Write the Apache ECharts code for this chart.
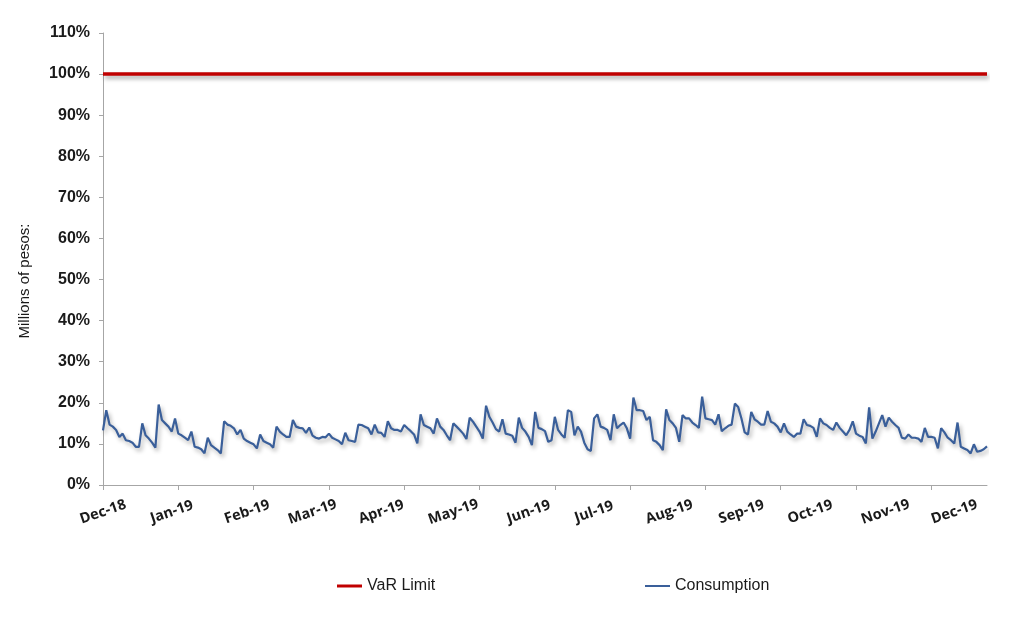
<!DOCTYPE html>
<html>
<head>
<meta charset="utf-8">
<title>VaR Limit vs Consumption</title>
<script src="https://cdn.jsdelivr.net/npm/echarts@6/dist/echarts.min.js"></script>
<style>
  html, body { margin: 0; padding: 0; background: #fff; }
  #chart { width: 1024px; height: 617px; }
</style>
</head>
<body>
<div id="chart"></div>
<script>
  // Valores (% del limite), un punto por dia habil
  const consumption = [
    13.3, 18.2, 14.7, 14.2, 13.4, 11.7, 12.5, 10.9, 10.7, 10.3, 9.3, 9.3, 15.0, 12.1, 11.3,
    10.3, 9.1, 19.6, 15.8, 15.0, 14.2, 13.0, 16.2, 12.5, 12.1, 11.5, 10.9, 13.0, 9.3, 9.1,
    8.7, 7.7, 11.5, 9.7, 9.1, 8.5, 7.7, 15.5, 14.7, 14.4, 13.8, 12.3, 13.4, 11.3,
    10.7, 10.3, 9.9, 8.9, 12.3, 10.7, 10.3, 9.9, 9.1, 14.2, 13.0, 12.3, 11.7, 11.7, 15.8,
    14.2, 13.9, 13.8, 12.7, 14.0, 12.0, 11.5, 11.3, 11.7, 11.6, 12.5, 11.5, 11.1, 10.7, 9.9,
    12.7, 10.9, 10.7, 10.5, 14.7, 14.6, 14.2, 13.8, 12.3, 14.7, 12.8, 12.7, 11.7, 15.5,
    13.8, 13.4, 13.4, 13.0, 14.6, 13.8, 13.1, 12.3, 10.1, 17.2, 14.6, 14.2, 13.8, 12.5, 16.2,
    14.2, 13.4, 12.1, 10.9, 15.0, 14.2, 13.4, 12.5, 11.2, 16.4, 15.4, 14.2, 13.0, 11.3, 19.3,
    16.6, 15.2, 13.6, 13.0, 16.0, 12.5, 12.3, 12.0, 10.3, 16.4, 13.9, 13.0, 11.7, 9.7,
    17.8, 13.9, 13.6, 13.1, 10.5, 10.9, 16.6, 13.4, 12.3, 11.5, 18.2, 17.8, 12.1, 14.2, 13.0,
    10.3, 8.7, 8.3, 16.2, 17.2, 14.2, 13.9, 13.4, 10.9, 17.2, 13.8, 14.6, 15.2, 13.8, 11.3,
    21.3, 18.2, 18.2, 18.0, 15.8, 16.6, 10.9, 10.5, 9.7, 8.5, 18.4, 15.8, 15.0, 13.9, 10.5,
    17.0, 16.2, 16.2, 15.2,
    14.6, 13.9, 21.5, 16.2, 16.0, 15.8, 14.7, 17.2, 13.1, 13.8, 14.4, 14.7, 19.8, 19.0, 16.2,
    12.8, 12.3, 17.8, 16.0, 15.4, 14.7, 14.7, 18.0, 15.4, 15.0, 14.2, 12.8, 15.0, 13.0, 12.3,
    11.7, 12.5, 12.5, 16.0, 14.6, 14.4, 13.9, 11.7, 16.2, 15.0, 14.6, 13.9, 13.4, 15.2, 13.9,
    13.0, 12.1,
    13.4, 15.5, 12.5, 12.0, 11.7, 10.1, 18.9, 11.3, 13.0, 15.0, 17.0, 14.2, 16.4, 15.4, 14.6,
    13.9, 11.5, 11.3, 12.3, 11.5, 11.5, 11.3, 10.5, 13.9, 11.7, 11.7, 11.5, 8.9, 13.8, 12.8,
    11.5, 10.9, 10.1, 15.2, 9.3, 8.9, 8.5, 7.7, 9.9, 8.1, 8.3, 8.7, 9.4
  ];
  const varLimit = 100;
  const tickLabels = [
    "Dec-18", "Jan-19", "Feb-19", "Mar-19", "Apr-19", "May-19", "Jun-19",
    "Jul-19", "Aug-19", "Sep-19", "Oct-19", "Nov-19", "Dec-19"
  ];
  const yTicks = { min: 0, max: 110, step: 10 };

  // Dias habiles desde el 3 de diciembre de 2018
  const categories = [];
  const day = new Date(Date.UTC(2018, 11, 3));
  while (categories.length < consumption.length) {
    const wd = day.getUTCDay();
    if (wd !== 0 && wd !== 6) categories.push(day.toISOString().slice(0, 10));
    day.setUTCDate(day.getUTCDate() + 1);
  }

  // Etiqueta en el primer dia habil de cada mes
  const labelAt = new Map();
  categories.forEach((c, i) => {
    if (i === 0 || c.slice(0, 7) !== categories[i - 1].slice(0, 7)) {
      const label = tickLabels[labelAt.size];
      if (label) labelAt.set(i, label);
    }
  });

  const chart = echarts.init(document.getElementById("chart"));

  chart.setOption({
    animation: false,
    backgroundColor: "#ffffff",
    grid: { left: 103, right: 37, top: 33, bottom: 132, containLabel: false },
    legend: [
      {
        data: ["VaR Limit"],
        left: 332,
        top: 573,
        icon: "rect",
        itemWidth: 25,
        itemHeight: 3,
        textStyle: { fontFamily: "Liberation Sans, Arial", fontSize: 16, color: "#1a1a1a" }
      },
      {
        data: ["Consumption"],
        left: 640,
        top: 573,
        icon: "rect",
        itemWidth: 25,
        itemHeight: 2,
        textStyle: { fontFamily: "Liberation Sans, Arial", fontSize: 16, color: "#1a1a1a" }
      }
    ],
    graphic: [
      {
        type: "text",
        x: 25,
        y: 281,
        rotation: Math.PI / 2,
        style: {
          text: "Millions of pesos:",
          fontFamily: "Liberation Sans, Arial",
          fontSize: 15,
          fill: "#1a1a1a",
          align: "center",
          verticalAlign: "middle"
        }
      }
    ],
    xAxis: {
      type: "category",
      data: categories,
      boundaryGap: false,
      axisLine: { lineStyle: { color: "#a6a6a6", width: 1 } },
      axisTick: {
        show: true,
        interval: 22,
        length: 5,
        lineStyle: { color: "#a6a6a6" }
      },
      axisLabel: {
        interval: (i) => labelAt.has(i),
        formatter: (v, i) => labelAt.get(i) || "",
        rotate: 19,
        align: "center",
        verticalAlign: "middle",
        margin: 27,
        fontFamily: "Open Sans",
        fontWeight: "bold",
        fontSize: 14.5,
        color: "#1a1a1a"
      },
      splitLine: { show: false }
    },
    yAxis: {
      type: "value",
      min: yTicks.min,
      max: yTicks.max,
      interval: yTicks.step,
      axisLine: { show: true, lineStyle: { color: "#a6a6a6", width: 1 } },
      axisTick: { show: true, length: 4, lineStyle: { color: "#a6a6a6" } },
      axisLabel: {
        formatter: "{value}%",
        margin: 13,
        fontFamily: "Liberation Sans, Arial",
        fontWeight: "bold",
        fontSize: 16,
        color: "#1a1a1a"
      },
      splitLine: { show: false }
    },
    series: [
      {
        name: "VaR Limit",
        type: "line",
        data: consumption.map(() => varLimit),
        symbol: "none",
        color: "#c00000",
        lineStyle: {
          color: "#c00000",
          width: 3.5,
          shadowColor: "rgba(0,0,0,0.35)",
          shadowBlur: 4,
          shadowOffsetX: 2,
          shadowOffsetY: 3
        }
      },
      {
        name: "Consumption",
        type: "line",
        data: consumption,
        symbol: "none",
        color: "#3a5f9a",
        lineStyle: {
          color: "#3a5f9a",
          width: 2.2,
          shadowColor: "rgba(0,0,0,0.3)",
          shadowBlur: 4,
          shadowOffsetX: 2,
          shadowOffsetY: 3
        }
      }
    ]
  });
</script>
</body>
</html>
